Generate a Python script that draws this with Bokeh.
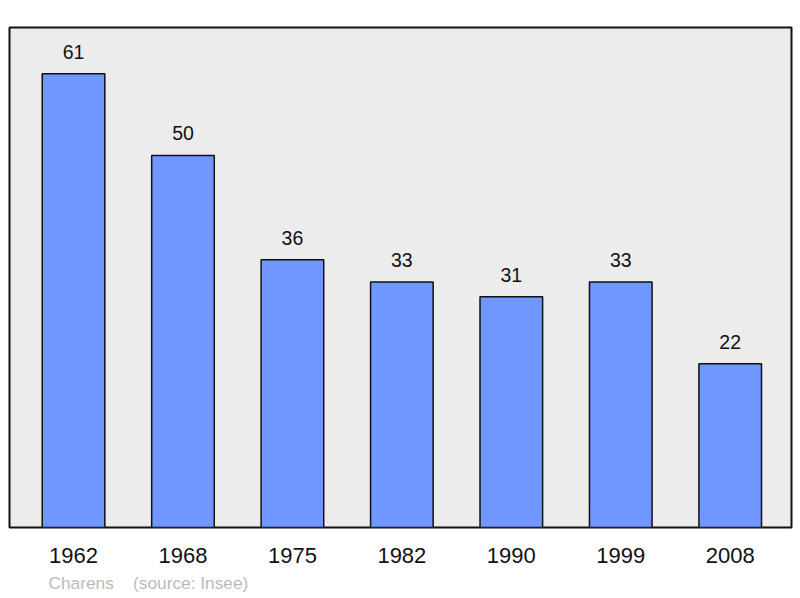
from bokeh.plotting import figure
from bokeh.models import Range1d, ColumnDataSource, Title, FixedTicker
from bokeh.embed import file_html
from bokeh.resources import INLINE

years = ["1962", "1968", "1975", "1982", "1990", "1999", "2008"]
population = [61, 50, 36, 33, 31, 33, 22]
commune = "Charens"
source_note = "(source: Insee)"

xs = list(range(len(years)))
src = ColumnDataSource(dict(x=xs, y=population, lab=[str(v) for v in population]))

p = figure(width=794, height=598, output_backend="svg", toolbar_location=None,
           x_range=Range1d(-0.585, 6.56), y_range=Range1d(0, 67.2))
p.min_border_left = 9
p.min_border_right = 3
p.min_border_top = 27
p.min_border_bottom = 0
p.background_fill_color = "#ececec"
p.border_fill_color = "white"
p.outline_line_color = "#111111"
p.outline_line_width = 2
p.xgrid.visible = False
p.ygrid.visible = False
p.yaxis.visible = False

p.vbar(x="x", top="y", width=0.572, bottom=0, source=src,
       fill_color="#7096ff", line_color="#111111", line_width=1.5)
p.text(x="x", y="y", text="lab", source=src, text_align="center",
       text_baseline="middle", y_offset=-22, text_font_size="19.5px",
       text_color="#111111", text_font={"value": "Liberation Sans"})

ax = p.xaxis[0]
ax.ticker = FixedTicker(ticks=xs)
ax.major_label_overrides = {i: y for i, y in enumerate(years)}
ax.axis_line_color = None
ax.major_tick_line_color = None
ax.minor_tick_line_color = None
ax.major_tick_out = 0
ax.major_tick_in = 0
ax.major_label_standoff = 20
ax.major_label_text_font = "Liberation Sans"
ax.major_label_text_font_size = "22px"
ax.major_label_text_color = "#111111"

t = Title(text=commune + "\u00a0\u00a0\u00a0\u00a0" + source_note, align="left",
          text_font="Liberation Sans", text_font_size="17.3px",
          text_color="#bbbbbb", text_font_style="normal",
          offset=39, standoff=11)
p.add_layout(t, "below")

open("out.html", "w").write(file_html(p, INLINE))
